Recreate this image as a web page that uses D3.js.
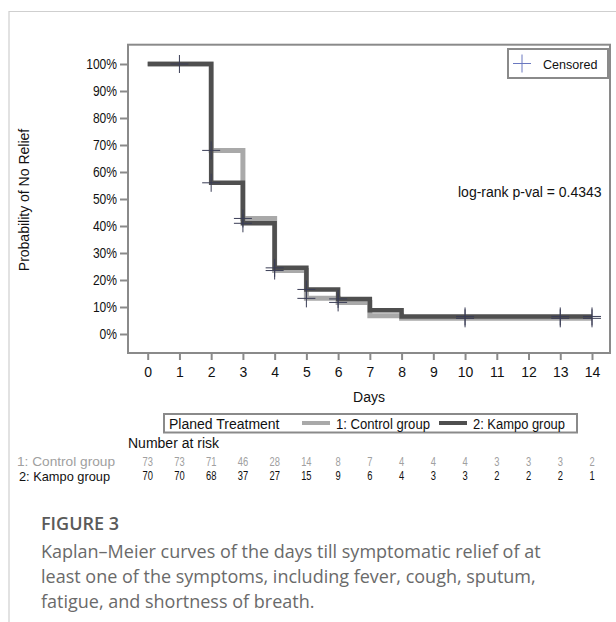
<!DOCTYPE html>
<html>
<head>
<meta charset="utf-8">
<script src="https://cdn.jsdelivr.net/npm/d3@7"></script>
<style>
  body { margin: 0; background: #fff; }
  svg { display: block; }
  .ch { font-family: "Liberation Sans", Arial, sans-serif; }
</style>
</head>
<body>
<svg width="616" height="622"></svg>
<script>
// data
const days = [0,1,2,3,4,5,6,7,8,9,10,11,12,13,14];
const pctTicks = [0,0.1,0.2,0.3,0.4,0.5,0.6,0.7,0.8,0.9,1];

const controlTimes = [0,2,3,4,5,6,7,8,14];
const controlSurv  = [1,0.68,0.428,0.235,0.132,0.117,0.068,0.058,0.058];
const kampoTimes   = [0,2,3,4,5,6,7,8,14];
const kampoSurv    = [1,0.56,0.41,0.245,0.165,0.13,0.088,0.065,0.065];

const controlCensored = [2,3,4,5,6,10,13,14];
const kampoCensored   = [1,2,3,4,5,6,10,13,14];

const riskControl = [73,73,71,46,28,14,8,7,4,4,4,3,3,3,2];
const riskKampo   = [70,70,68,37,27,15,9,6,4,3,3,2,2,2,1];

const svg = d3.select('svg');

// narrow the chart font a bit (the original uses a condensed face)
function squeeze(sel, f) {
  sel.each(function() {
    const w = this.getComputedTextLength();
    d3.select(this).attr('textLength', w * f).attr('lengthAdjust','spacingAndGlyphs');
  });
  return sel;
}

// outer figure frame
svg.append('path').attr('d','M9,622V11.5H616')
  .attr('fill','none').attr('stroke','#cfcfcf').attr('stroke-width',1.2);

const pLeft = 128, pRight = 610, pTop = 44.7, pBottom = 353;
const x = d3.scaleLinear().domain([0,14]).range([147.7, 592]);
const y = d3.scaleLinear().domain([0,1]).range([334, 64]);

const g = svg.append('g').attr('class','ch');

// plot frame
g.append('rect').attr('x',pLeft).attr('y',pTop)
  .attr('width',pRight-pLeft).attr('height',pBottom-pTop)
  .attr('fill','none').attr('stroke','#8a8a8a').attr('stroke-width',2);

// y axis
const yAxis = g.append('g').attr('transform',`translate(${pLeft-1},0)`)
  .call(d3.axisLeft(y).tickValues(pctTicks).tickFormat(d3.format('.0%')).tickSize(7).tickPadding(3));
yAxis.select('.domain').remove();
yAxis.selectAll('line').attr('stroke','#8a8a8a').attr('stroke-width',2);
yAxis.selectAll('text').attr('font-size',14).attr('fill','#111')
  .style('font-family','"Liberation Sans", Arial, sans-serif');
squeeze(yAxis.selectAll('text'), 0.86);

// x axis
const xAxis = g.append('g').attr('transform',`translate(0,${pBottom+1})`)
  .call(d3.axisBottom(x).tickValues(days).tickFormat(d3.format('d')).tickSize(6).tickPadding(7));
xAxis.select('.domain').remove();
xAxis.selectAll('line').attr('stroke','#8a8a8a').attr('stroke-width',2);
xAxis.selectAll('text').attr('font-size',14).attr('fill','#111')
  .style('font-family','"Liberation Sans", Arial, sans-serif');

g.append('text').attr('x',(pLeft+pRight)/2).attr('y',402)
  .attr('text-anchor','middle').attr('font-size',14).attr('fill','#111').text('Days');

g.append('text').attr('transform','translate(29,200) rotate(-90)')
  .attr('text-anchor','middle').attr('font-size',14).attr('fill','#111')
  .text('Probability of No Relief');

// curves
const line = d3.line().x(d => x(d[0])).y(d => y(d[1])).curve(d3.curveStepAfter);
const ctrl = controlTimes.map((t,i) => [t, controlSurv[i]]);
const kmp  = kampoTimes.map((t,i) => [t, kampoSurv[i]]);

function survAt(times, surv, t) {
  let v = surv[0];
  times.forEach((tt,i) => { if (tt <= t) v = surv[i]; });
  return v;
}

g.append('path').datum(ctrl).attr('d',line)
  .attr('fill','none').attr('stroke','#a9a9a9').attr('stroke-width',5);
g.append('path').datum(kmp).attr('d',line)
  .attr('fill','none').attr('stroke','#4f4f4f').attr('stroke-width',4.5);

// censored marks
const cens = controlCensored.map(t => [t, survAt(controlTimes, controlSurv, t)])
  .concat(kampoCensored.map(t => [t, survAt(kampoTimes, kampoSurv, t)]));
const cg = g.append('g');
cens.forEach(d => {
  const cx = x(d[0]), cy = y(d[1]);
  cg.append('path').attr('d',`M${cx-9},${cy}H${cx+9}M${cx},${cy-9}V${cy+9}`)
    .attr('stroke','#3a3d55').attr('stroke-width',1).attr('fill','none');
});

// censored legend
g.append('rect').attr('x',508).attr('y',49).attr('width',100).attr('height',29)
  .attr('fill','#fff').attr('stroke','#8a8a8a').attr('stroke-width',2);
g.append('path').attr('d','M513,63.5H531M522,54.5V72.5')
  .attr('stroke','#6a78c0').attr('stroke-width',1).attr('fill','none');
g.append('text').attr('x',543).attr('y',68.5).attr('font-size',13.5).attr('fill','#111').text('Censored')
  .call(squeeze, 0.93);

g.append('text').attr('x',458).attr('y',196.5)
  .attr('font-size',14).attr('fill','#111').text('log-rank p-val = 0.4343');

// treatment legend
g.append('rect').attr('x',164).attr('y',414).attr('width',413).attr('height',18.5)
  .attr('fill','none').attr('stroke','#8a8a8a').attr('stroke-width',2);
g.append('text').attr('x',169).attr('y',428.5).attr('font-size',14).attr('fill','#111').text('Planed Treatment');
g.append('line').attr('x1',302).attr('x2',330).attr('y1',423).attr('y2',423)
  .attr('stroke','#a9a9a9').attr('stroke-width',4);
g.append('text').attr('x',336).attr('y',428.5).attr('font-size',14).attr('fill','#111')
  .text('1: Control group').attr('textLength',94).attr('lengthAdjust','spacingAndGlyphs');
g.append('line').attr('x1',439).attr('x2',467).attr('y1',423).attr('y2',423)
  .attr('stroke','#4f4f4f').attr('stroke-width',4);
g.append('text').attr('x',473).attr('y',428.5).attr('font-size',14).attr('fill','#111')
  .text('2: Kampo group').attr('textLength',92).attr('lengthAdjust','spacingAndGlyphs');

// number at risk
g.append('text').attr('x',128).attr('y',448).attr('font-size',14).attr('fill','#111').text('Number at risk');
g.append('text').attr('x',17).attr('y',466)
  .attr('font-size',13.5).attr('fill','#a0a0a0').text('1: Control group')
  .attr('textLength',98).attr('lengthAdjust','spacingAndGlyphs');
g.append('text').attr('x',19).attr('y',480.5)
  .attr('font-size',13.5).attr('fill','#111').text('2: Kampo group')
  .attr('textLength',91).attr('lengthAdjust','spacingAndGlyphs');
g.append('g').selectAll('text').data(riskControl).join('text')
  .attr('x',(d,i) => x(days[i])).attr('y',466).attr('text-anchor','middle')
  .attr('font-size',12).attr('fill','#a0a0a0').text(d => d)
  .call(squeeze, 0.78);
g.append('g').selectAll('text').data(riskKampo).join('text')
  .attr('x',(d,i) => x(days[i])).attr('y',480).attr('text-anchor','middle')
  .attr('font-size',12).attr('fill','#111').text(d => d)
  .call(squeeze, 0.78);

// caption
const cap = svg.append('g').style('font-family','"Open Sans", Lato, sans-serif');
cap.append('text').attr('x',41).attr('y',530).attr('font-size',18)
  .attr('font-weight','600').attr('fill','#5a5a5a').text('FIGURE 3');
const capLines = [
  'Kaplan\u2013Meier curves of the days till symptomatic relief of at',
  'least one of the symptoms, including fever, cough, sputum,',
  'fatigue, and shortness of breath.'
];
cap.selectAll('.cl').data(capLines).join('text').attr('class','cl')
  .attr('x',41).attr('y',(d,i) => 558 + i*25).attr('font-size',18)
  .attr('fill','#6a6a6a').text(d => d);
</script>
</body>
</html>
